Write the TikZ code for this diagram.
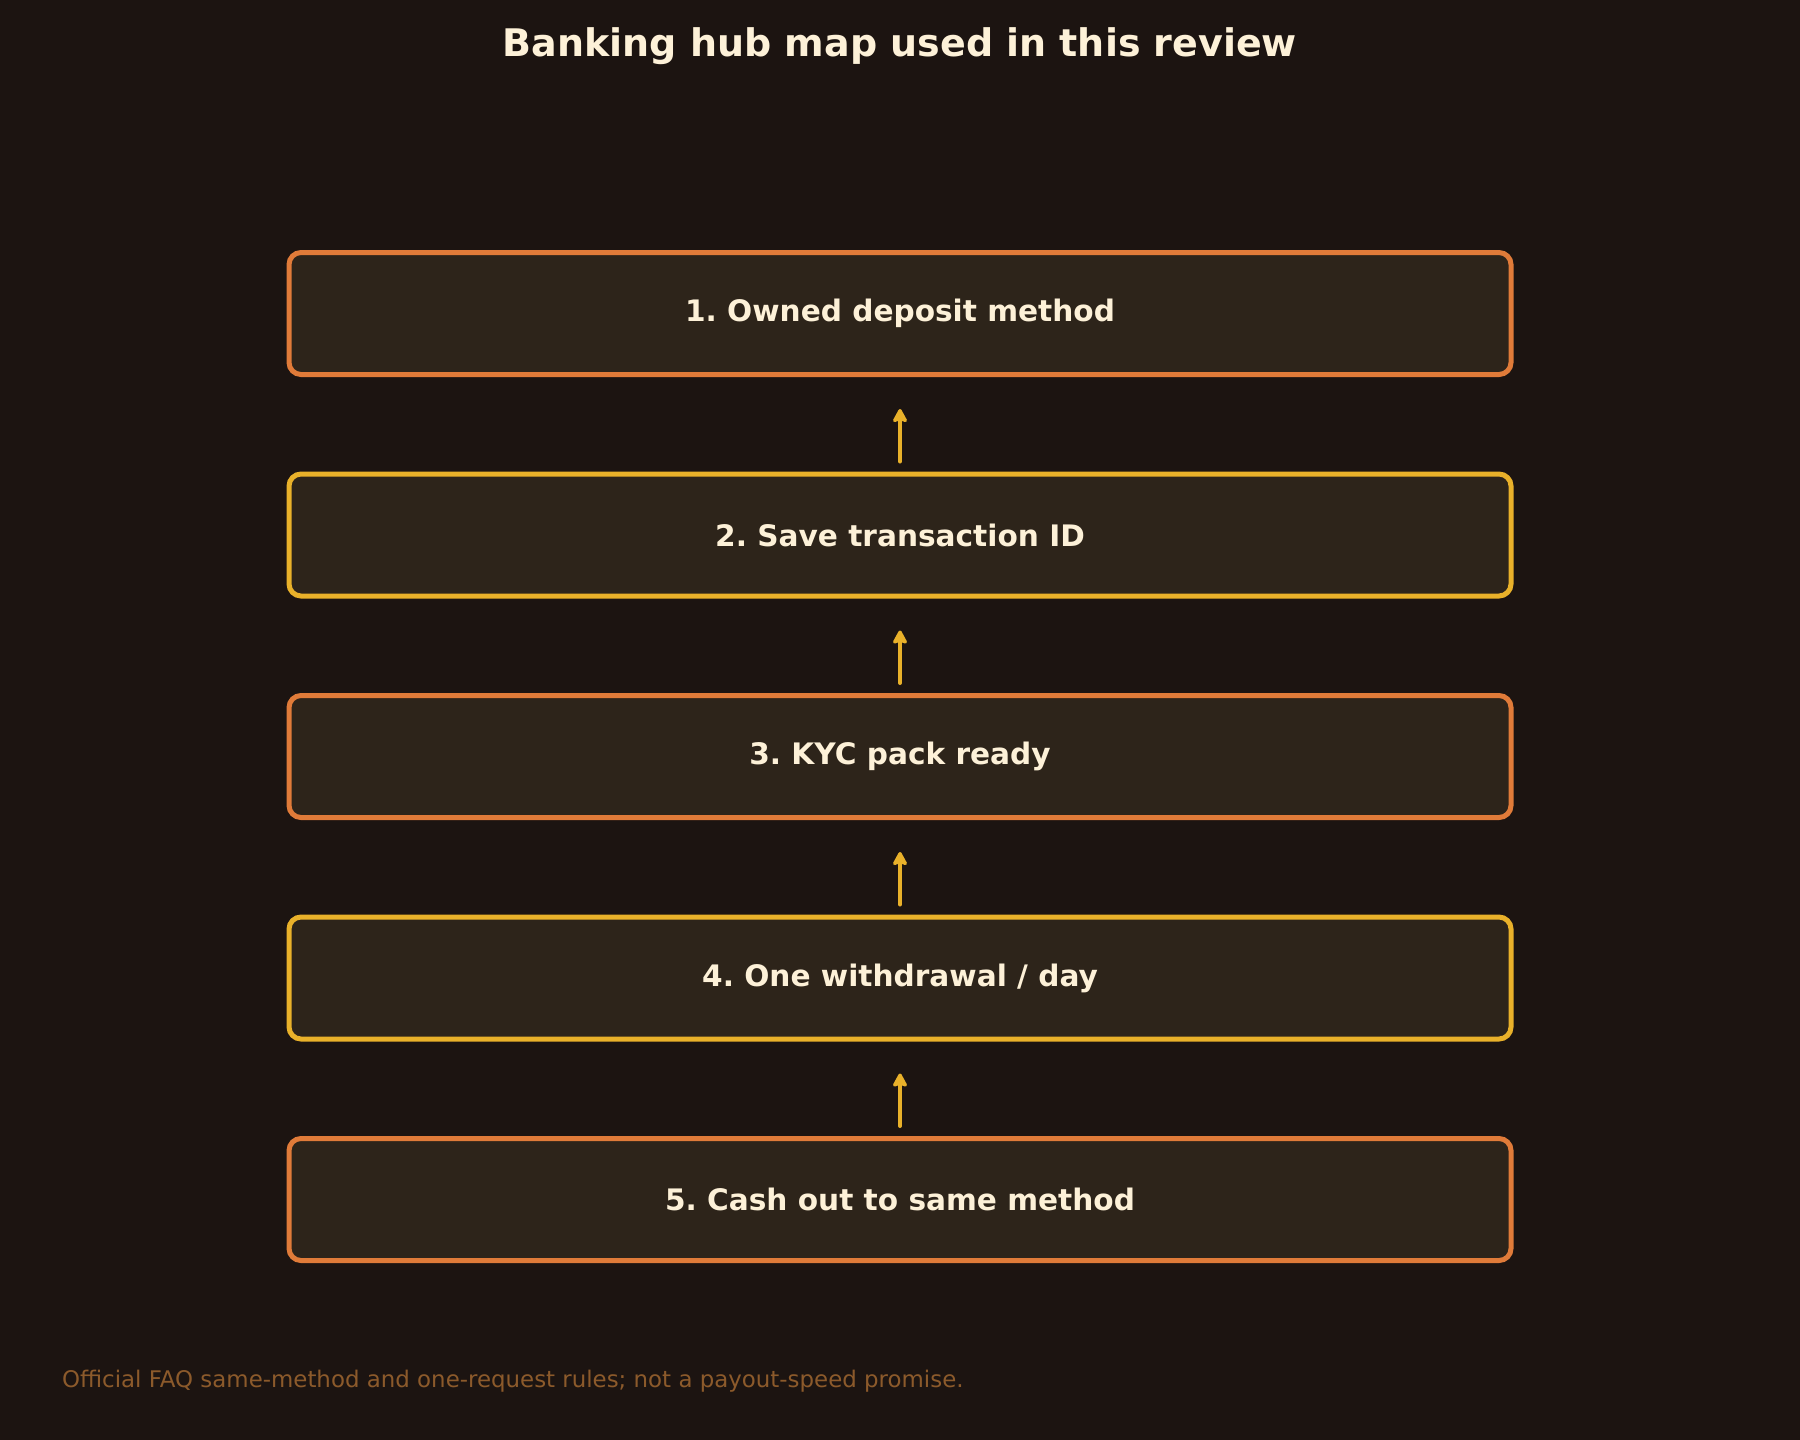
\documentclass[tikz,border=0pt]{standalone}
\usepackage{fontspec}
\setmainfont{DejaVu Sans}
\usepackage{tikz}
\usetikzlibrary{arrows.meta,positioning}

\definecolor{bgdark}{HTML}{1C1411}
\definecolor{boxfill}{HTML}{2D241A}
\definecolor{hubor}{HTML}{E07B39}
\definecolor{hubyel}{HTML}{E9B12A}
\definecolor{cream}{HTML}{FDF1D8}
\definecolor{notebrown}{HTML}{8C5A2B}

\frenchspacing
\begin{document}
\begin{tikzpicture}[
  x=0.5pt, y=-0.5pt,
  node distance=47.25pt,
  hubbox/.style={rounded corners=6pt, line width=2.5pt, fill=boxfill, minimum width=611pt, minimum height=61pt, text=cream, font=\bfseries\fontsize{14.8}{17}\selectfont},
  orbox/.style={hubbox, draw=hubor},
  yelbox/.style={hubbox, draw=hubyel},
  arr/.style={-{Stealth[length=8pt, width=8.5pt, inset=1.5pt, round]}, line width=2pt, line cap=round, draw=hubyel, shorten <=5pt, shorten >=16pt},
]
  \fill[bgdark] (0,0) rectangle (1800,1440);
  \useasboundingbox (0,0) rectangle (1800,1440);

  \node[text=cream, font=\bfseries\fontsize{19}{22}\selectfont] (title) at (900,46) {Banking hub map used in this review};

  \node[orbox] (owned) at (900,313.5) {1. Owned deposit method};
  \node[yelbox, below=of owned] (txid) {2. Save transaction ID};
  \node[orbox, below=of txid] (kyc) {3. KYC pack ready};
  \node[yelbox, below=of kyc] (oneday) {4. One withdrawal / day};
  \node[orbox, below=of oneday] (cashout) {5. Cash out to same method};

  \node[anchor=west, text=notebrown, font=\fontsize{11.45}{13}\selectfont] (note) at (55,1381.5) {Official FAQ same-method and one-request rules; not a payout-speed promise.};

  \draw[arr] (txid.north) -- (owned.south);
  \draw[arr] (kyc.north) -- (txid.south);
  \draw[arr] (oneday.north) -- (kyc.south);
  \draw[arr] (cashout.north) -- (oneday.south);
\end{tikzpicture}
\end{document}
